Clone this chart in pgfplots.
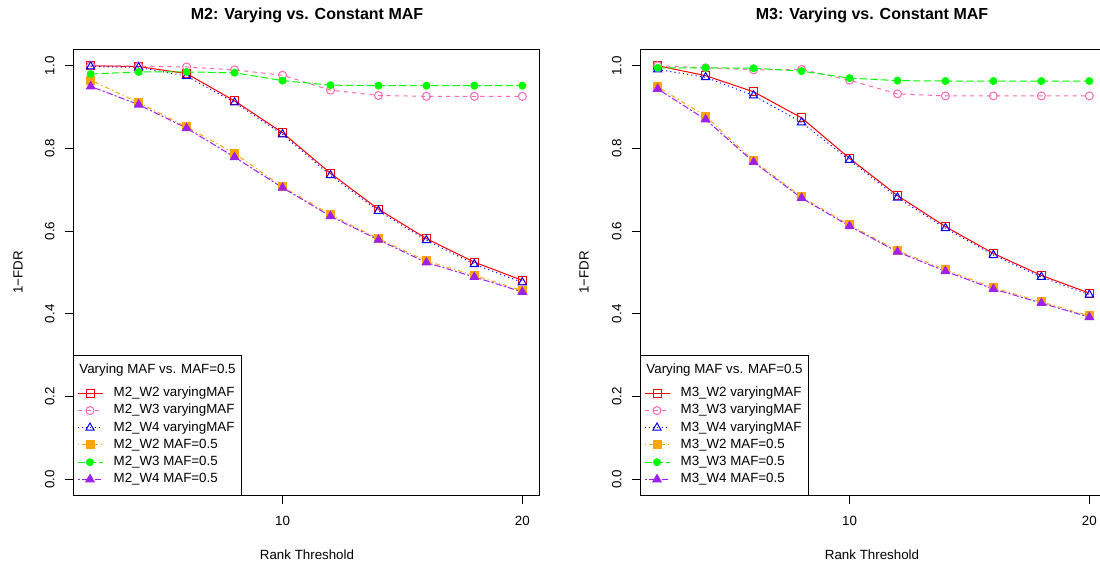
\documentclass[border=0pt]{standalone}
\usepackage{fontspec}
\setmainfont{Liberation Sans}
\usepackage{pgfplots}
\pgfplotsset{compat=1.18}

\definecolor{cRed}{HTML}{FF0000}
\definecolor{cPink}{HTML}{FF69B4}
\definecolor{cBlue}{HTML}{0000FF}
\definecolor{cOrange}{HTML}{FFA500}
\definecolor{cGreen}{HTML}{00FF00}
\definecolor{cPurple}{HTML}{A020F0}

\pgfplotsset{
  rpanel/.style={
    scale only axis, width=349.65pt, height=334.95pt,
    anchor=south west, clip=false,
    xmin=1.28, xmax=20.72, ymin=-0.04, ymax=1.04,
    axis line style={line width=0.75pt, black},
    xtick={10,20}, ytick={0,0.2,0.4,0.6,0.8,1.0},
    tick align=outside, major tick length=6pt,
    xtick pos=left, ytick pos=left,
    tick style={line width=0.75pt, black},
    tick label style={font=\fontsize{10}{12}\selectfont},
    /pgf/number format/assume math mode=true,
    yticklabel={\pgfmathprintnumber[fixed,fixed zerofill,precision=1]{\tick}},
    yticklabel style={xshift=-7.95pt, rotate=90, anchor=south, inner sep=0pt},
    xticklabel style={anchor=north, inner sep=0pt, yshift=-9.3pt},
    legend style={at={(0,0)}, anchor=north west, xshift=2.7pt, yshift=83.25pt,
      draw=none, fill=none, inner sep=0pt, outer sep=0pt, row sep=0pt, column sep=8pt,
      font=\fontsize{10}{12}\selectfont,
      nodes={inner sep=0pt, text height=9pt, text depth=3.9pt}},
    legend cell align=left,
    legend image code/.code={\draw[mark repeat=2,mark phase=2,##1] plot coordinates {(0pt,0pt) (9.375pt,0pt) (18.75pt,0pt)};},
    every axis plot/.append style={line width=0.75pt},
  },
  sW2v/.style={color=cRed, solid, mark=square*, mark size=3pt, mark options={solid, draw=cRed, fill=cRed, fill opacity=0}},
  sW3v/.style={color=cPink, dash pattern=on 3.2pt off 3.2pt, mark=o, mark size=3pt, mark options={solid, draw=cPink, fill=none}},
  sW4v/.style={color=cBlue, dash pattern=on 0.8pt off 2.4pt, mark=triangle, mark size=3.6pt, mark options={solid, draw=cBlue, fill=none}},
  sW2c/.style={color=cOrange, dash pattern=on 0.8pt off 2.4pt on 3.2pt off 2.4pt, mark=square*, mark size=3pt, mark options={solid, draw=cOrange, fill=cOrange}},
  sW3c/.style={color=cGreen, dash pattern=on 5.6pt off 2.4pt, mark=*, mark size=2.6pt, mark options={solid, draw=cGreen, fill=cGreen}},
  sW4c/.style={color=cPurple, dash pattern=on 1.6pt off 1.6pt on 4.8pt off 1.6pt, mark=triangle*, mark size=3.6pt, mark options={solid, draw=cPurple, fill=cPurple}},
}

\begin{document}
\begin{tikzpicture}
% ---------------- Left panel: M2 ----------------
\begin{axis}[rpanel, at={(55.05pt,53.4pt)}]
\addplot[sW2v] coordinates {(2,1.000)(4,0.998)(6,0.981)(8,0.915)(10,0.838)(12,0.740)(14,0.653)(16,0.582)(18,0.525)(20,0.481)};
\addlegendentry{M2\_W2 varyingMAF}
\addplot[sW3v] coordinates {(2,1.000)(4,0.999)(6,0.997)(8,0.990)(10,0.977)(12,0.941)(14,0.928)(16,0.926)(18,0.926)(20,0.926)};
\addlegendentry{M2\_W3 varyingMAF}
\addplot[sW4v] coordinates {(2,0.998)(4,0.996)(6,0.975)(8,0.911)(10,0.834)(12,0.735)(14,0.649)(16,0.578)(18,0.520)(20,0.476)};
\addlegendentry{M2\_W4 varyingMAF}
\addplot[sW2c] coordinates {(2,0.965)(4,0.911)(6,0.852)(8,0.788)(10,0.707)(12,0.640)(14,0.582)(16,0.528)(18,0.493)(20,0.456)};
\addlegendentry{M2\_W2 MAF=0.5}
\addplot[sW3c] coordinates {(2,0.980)(4,0.985)(6,0.985)(8,0.983)(10,0.964)(12,0.953)(14,0.952)(16,0.952)(18,0.952)(20,0.952)};
\addlegendentry{M2\_W3 MAF=0.5}
\addplot[sW4c] coordinates {(2,0.950)(4,0.906)(6,0.849)(8,0.779)(10,0.705)(12,0.636)(14,0.579)(16,0.524)(18,0.489)(20,0.453)};
\addlegendentry{M2\_W4 MAF=0.5}
\draw[line width=0.75pt] (rel axis cs:0,0) rectangle +(126.2pt,104.85pt);
\node[anchor=base, font=\fontsize{10}{12}\selectfont] at ([shift={(63.1pt,91.5pt)}]rel axis cs:0,0) {Varying MAF vs. MAF=0.5};
\end{axis}
% ---------------- Right panel: M3 ----------------
\begin{axis}[rpanel, at={(480.3pt,53.4pt)}]
\addplot[sW2v] coordinates {(2,1.000)(4,0.976)(6,0.937)(8,0.874)(10,0.776)(12,0.686)(14,0.611)(16,0.546)(18,0.493)(20,0.450)};
\addlegendentry{M3\_W2 varyingMAF}
\addplot[sW3v] coordinates {(2,1.000)(4,0.995)(6,0.990)(8,0.991)(10,0.965)(12,0.932)(14,0.927)(16,0.927)(18,0.927)(20,0.927)};
\addlegendentry{M3\_W3 varyingMAF}
\addplot[sW4v] coordinates {(2,0.991)(4,0.972)(6,0.928)(8,0.863)(10,0.772)(12,0.681)(14,0.607)(16,0.542)(18,0.489)(20,0.446)};
\addlegendentry{M3\_W4 varyingMAF}
\addplot[sW2c] coordinates {(2,0.949)(4,0.878)(6,0.770)(8,0.683)(10,0.615)(12,0.553)(14,0.507)(16,0.463)(18,0.429)(20,0.395)};
\addlegendentry{M3\_W2 MAF=0.5}
\addplot[sW3c] coordinates {(2,0.995)(4,0.995)(6,0.994)(8,0.987)(10,0.970)(12,0.964)(14,0.963)(16,0.963)(18,0.963)(20,0.963)};
\addlegendentry{M3\_W3 MAF=0.5}
\addplot[sW4c] coordinates {(2,0.944)(4,0.870)(6,0.767)(8,0.680)(10,0.612)(12,0.550)(14,0.503)(16,0.460)(18,0.426)(20,0.392)};
\addlegendentry{M3\_W4 MAF=0.5}
\draw[line width=0.75pt] (rel axis cs:0,0) rectangle +(126pt,104.85pt);
\node[anchor=base, font=\fontsize{10}{12}\selectfont] at ([shift={(63.1pt,91.5pt)}]rel axis cs:0,0) {Varying MAF vs. MAF=0.5};
\end{axis}
% titles and axis labels
\node[font=\fontsize{12}{14}\selectfont\bfseries] at (230.25pt,414pt) {M2: Varying vs. Constant MAF};
\node[font=\fontsize{12}{14}\selectfont\bfseries] at (654pt,414pt) {M3: Varying vs. Constant MAF};
\node[font=\fontsize{10}{12}\selectfont] at (230.25pt,9pt) {Rank Threshold};
\node[font=\fontsize{10}{12}\selectfont] at (654pt,9pt) {Rank Threshold};
\node[font=\fontsize{10}{12}\selectfont, rotate=90] at (13.5pt,220.9pt) {1−FDR};
\node[font=\fontsize{10}{12}\selectfont, rotate=90] at (438pt,220.9pt) {1−FDR};
\pgfresetboundingbox
\path[use as bounding box] (0,0) rectangle (825pt,425.25pt);
\end{tikzpicture}
\end{document}
